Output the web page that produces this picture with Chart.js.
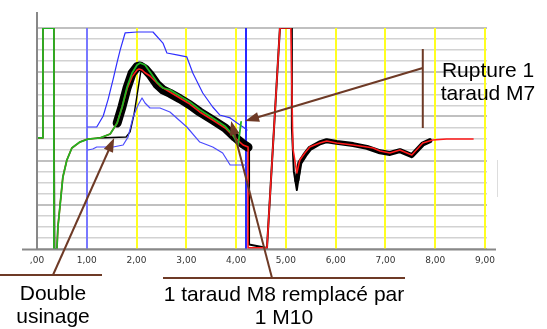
<!DOCTYPE html>
<html>
<head>
<meta charset="utf-8">
<script src="https://cdn.jsdelivr.net/npm/chart.js@4.4.1/dist/chart.umd.min.js"></script>
<style>
  body { margin: 0; background: #fff; }
  canvas { display: block; }
</style>
</head>
<body>
<canvas id="graphe" width="547" height="329"></canvas>
<script>
// axe x : temps (s), axe y : unités de grille (0 à 20)
const ticksX = [0, 1, 2, 3, 4, 4.2, 5, 6, 7, 8, 9];
const etiquettesX = [",00", "1,00", "2,00", "3,00", "4,00", "", "5,00", "6,00", "7,00", "8,00", "9,00"];
const ticksY = [0, 1, 2, 3, 4, 5, 6, 7, 8, 9, 10, 11, 12, 13, 14, 15, 16, 17, 18, 19, 20];

const courbeVerte = [
  [0.02, 10.05], [0.12, 10.05], [0.12, 20], [0.34, 20], [0.34, 0], [0.40, 0], [0.42, 1.99],
  [0.46, 3.80], [0.52, 6.52], [0.60, 8.05], [0.70, 9.14], [0.86, 9.68], [1.02, 9.95], [1.27, 10.05],
  [1.47, 10.41], [1.61, 11.40], [1.71, 12.85], [1.81, 14.66], [1.91, 15.93], [2.01, 16.65],
  [2.07, 16.83], [2.17, 16.65], [2.27, 16.02], [2.41, 15.11], [2.53, 14.57], [2.67, 14.4],
  [2.87, 13.85], [3.07, 13.3], [3.27, 12.6], [3.53, 11.86], [3.78, 11.1], [3.94, 10.3],
  [4.04, 9.4], [4.10, 11.5]
];

const courbeRouge = [
  [0.02, 10.05], [0.12, 10.05], [0.12, 20], [0.34, 20], [0.34, 0], [0.40, 0], [0.42, 1.99],
  [0.46, 3.80], [0.52, 6.52], [0.60, 8.05], [0.70, 9.14], [0.86, 9.68], [1.02, 9.95], [1.27, 10.05],
  [1.47, 10.41], [1.61, 11.40], [1.71, 12.85], [1.81, 14.5], [1.91, 15.6], [2.01, 16.2],
  [2.05, 16.29], [2.11, 16.2], [2.17, 15.95], [2.27, 15.66], [2.47, 14.75], [2.67, 14.21],
  [2.87, 13.67], [3.07, 13.12], [3.27, 12.40], [3.53, 11.67], [3.78, 10.95], [3.98, 10.05],
  [4.14, 9.41], [4.24, 9.23], [4.24, 8.51], [4.24, 0.1], [4.62, 0.1], [4.88, 20], [5.10, 20],
  [5.14, 9.14], [5.22, 6.88], [5.28, 8.05], [5.38, 8.69], [5.48, 9.23], [5.68, 9.59], [5.82, 9.77],
  [6.02, 9.59], [6.35, 9.41], [6.63, 9.23], [6.75, 9.14], [6.89, 8.87], [7.09, 8.69], [7.29, 8.96],
  [7.53, 8.51], [7.75, 9.59], [7.95, 9.86], [8.23, 9.95], [8.76, 9.95]
];

const noirDebut = [
  [0.02, 10.05], [0.12, 10.05], [0.12, 20], [0.34, 20], [0.36, 0], [0.40, 0], [0.42, 1.99],
  [0.46, 3.80], [0.52, 6.52], [0.60, 8.05], [0.70, 9.14], [0.86, 9.68], [1.02, 9.95], [1.27, 10.05],
  [1.47, 10.41], [1.61, 11.40], [1.67, 12.1]
];

const noirFaisceau = [
  [1.61, 11.40], [1.71, 12.9], [1.81, 14.6], [1.91, 15.9], [2.01, 16.5], [2.07, 16.56],
  [2.17, 16.3], [2.27, 15.8], [2.41, 14.9], [2.53, 14.4], [2.67, 14.1], [2.87, 13.6],
  [3.07, 13.05], [3.27, 12.4], [3.53, 11.67], [3.78, 10.95], [3.98, 10.1], [4.14, 9.5], [4.24, 9.2]
];

const noirChute = [
  [4.26, 9.2], [4.26, 0.4], [4.62, 0.1], [4.88, 20], [5.12, 20], [5.12, 11], [5.16, 7.0],
  [5.22, 5.34], [5.28, 7.2]
];

const noirApres = [
  [5.22, 6.2], [5.28, 7.8], [5.38, 8.5], [5.48, 9.1], [5.68, 9.6], [5.82, 9.8], [6.02, 9.65],
  [6.35, 9.45], [6.63, 9.2], [6.89, 8.8], [7.09, 8.65], [7.29, 8.9], [7.53, 8.45], [7.75, 9.5],
  [7.89, 9.8]
];

// double usinage : palier
const noirPalier = [
  [1.22, 10.05], [1.79, 10.14], [1.87, 10.6], [1.95, 12.2], [2.03, 14.5], [2.09, 16.2]
];

const enveloppeHaute = [
  [1.02, 11.04], [1.20, 11.04], [1.33, 12.04], [1.43, 13.57], [1.53, 15.38], [1.61, 16.92],
  [1.67, 18.0], [1.77, 19.55], [2.01, 19.64], [2.33, 19.64], [2.53, 18.64], [2.61, 17.74],
  [2.81, 17.56], [3.01, 17.38], [3.13, 15.93], [3.33, 14.12], [3.53, 12.85], [3.67, 12.13],
  [3.88, 11.86], [4.02, 11.4], [4.14, 11.04], [4.22, 10.77]
];

const enveloppeBasse = [
  [1.02, 8.96], [1.12, 9.05], [1.20, 9.23], [1.53, 9.23], [1.73, 9.41], [1.83, 10.14],
  [1.93, 11.95], [2.03, 13.03], [2.11, 13.67], [2.17, 13.21], [2.27, 12.76], [2.47, 12.76],
  [2.67, 12.40], [3.01, 11.04], [3.27, 9.68], [3.53, 9.23], [3.73, 8.69], [3.88, 7.6], [4.22, 7.6]
];

const brun = "#6e3a26";

const pts = (arr) => arr.map(([x, y]) => ({ x: x, y: y }));

const serie = (data, couleur, epaisseur) => ({
  data: pts(data),
  borderColor: couleur,
  borderWidth: epaisseur,
  pointRadius: 0,
  tension: 0,
  fill: false,
  borderJoinStyle: "round",
  borderCapStyle: "round",
});

// flèche simple avec pointe pleine
function fleche(ctx, x1, y1, x2, y2) {
  const a = Math.atan2(y2 - y1, x2 - x1);
  ctx.beginPath();
  ctx.moveTo(x1, y1);
  ctx.lineTo(x2 - 8 * Math.cos(a), y2 - 8 * Math.sin(a));
  ctx.stroke();
  ctx.beginPath();
  ctx.moveTo(x2, y2);
  ctx.lineTo(x2 - 14 * Math.cos(a) + 5 * Math.sin(a), y2 - 14 * Math.sin(a) - 5 * Math.cos(a));
  ctx.lineTo(x2 - 14 * Math.cos(a) - 5 * Math.sin(a), y2 - 14 * Math.sin(a) + 5 * Math.cos(a));
  ctx.closePath();
  ctx.fill();
}

const annotations = {
  id: "annotations",
  afterDatasetsDraw(chart) {
    const ctx = chart.ctx;
    const sx = chart.scales.x;
    const sy = chart.scales.y;
    const area = chart.chartArea;
    ctx.save();

    // axes prolongés
    ctx.strokeStyle = "#888";
    ctx.lineWidth = 2;
    ctx.beginPath();
    ctx.moveTo(area.left, 12);
    ctx.lineTo(area.left, area.bottom);
    ctx.moveTo(22, area.bottom + 0.5);
    ctx.lineTo(496, area.bottom + 0.5);
    ctx.stroke();
    ctx.strokeStyle = "#ddd";
    ctx.lineWidth = 1;
    ctx.beginPath();
    ctx.moveTo(497.5, 160);
    ctx.lineTo(497.5, 197);
    ctx.stroke();

    ctx.strokeStyle = brun;
    ctx.fillStyle = brun;
    ctx.lineWidth = 2;

    // Double usinage
    ctx.beginPath();
    ctx.moveTo(0, 275);
    ctx.lineTo(102, 275);
    ctx.stroke();
    fleche(ctx, 53, 275, sx.getPixelForValue(1.55), sy.getPixelForValue(10.05));

    // 1 taraud M8 remplacé
    ctx.beginPath();
    ctx.moveTo(163, 278);
    ctx.lineTo(405, 278);
    ctx.stroke();
    fleche(ctx, 272, 278, sx.getPixelForValue(3.90), sy.getPixelForValue(11.58));

    // Rupture
    const xb = sx.getPixelForValue(7.75);
    ctx.beginPath();
    ctx.moveTo(xb, sy.getPixelForValue(18.1));
    ctx.lineTo(xb, sy.getPixelForValue(10.95));
    ctx.stroke();
    fleche(ctx, xb, sy.getPixelForValue(16.38), sx.getPixelForValue(4.18), sy.getPixelForValue(11.58));

    ctx.fillStyle = "#000";
    ctx.font = "21px 'Liberation Sans', Arial, sans-serif";
    ctx.textAlign = "center";
    ctx.textBaseline = "alphabetic";
    ctx.fillText("Rupture 1", 488, 77);
    ctx.fillText("taraud M7", 488, 100);
    ctx.fillText("Double", 53, 300);
    ctx.fillText("usinage", 53, 323);
    ctx.fillText("1 taraud M8 remplacé par", 284, 301);
    ctx.fillText("1 M10", 284, 324);
    ctx.restore();
  },
};

const couleurGrilleX = (v) => {
  if (Math.abs(v - 1) < 0.01) return "#7878ff";
  if (Math.abs(v - 4.2) < 0.01) return "#2a2aff";
  return "#ffff20";
};

new Chart(document.querySelector("#graphe"), {
  type: "line",
  data: {
    datasets: [
      serie(courbeVerte, "#22b422", 1.8),
      serie(courbeRouge, "#ff1a1a", 1.6),
      serie(enveloppeHaute, "#2f2fff", 1.2),
      serie(enveloppeBasse, "#4a4aff", 1.2),
      serie(noirPalier, "#000", 1.4),
      serie(noirApres, "#000", 5),
      serie(noirChute, "#000", 2),
      serie(noirFaisceau, "#000", 9),
      serie(noirDebut, "#000", 1),
    ],
  },
  options: {
    responsive: false,
    devicePixelRatio: 1,
    animation: false,
    layout: { padding: { top: 28, right: 60, left: 0, bottom: 0 } },
    plugins: { legend: { display: false }, tooltip: { enabled: false } },
    scales: {
      x: {
        type: "linear",
        min: 0,
        max: 9.04,
        afterBuildTicks: (scale) => {
          scale.ticks = ticksX.map((v) => ({ value: v }));
        },
        afterFit: (scale) => {
          scale.height = 80;
        },
        border: { display: false },
        grid: {
          z: -1,
          drawTicks: false,
          color: (c) => couleurGrilleX(c.tick.value),
          lineWidth: 2,
        },
        ticks: {
          autoSkip: false,
          maxRotation: 0,
          padding: 6,
          color: "#333",
          font: { family: "'DejaVu Sans', sans-serif", size: 9 },
          callback: (v, i) => etiquettesX[i],
        },
      },
      y: {
        min: 0,
        max: 20,
        afterBuildTicks: (scale) => {
          scale.ticks = ticksY.map((v) => ({ value: v }));
        },
        afterFit: (scale) => {
          scale.width = 37;
        },
        border: { display: false },
        grid: {
          z: -2,
          drawTicks: false,
          color: (c) => (c.tick.value % 4 === 0 ? "#c0c0c0" : "#d2d2d2"),
          lineWidth: (c) => (c.tick.value % 4 === 0 ? 2 : 1.5),
        },
        ticks: { display: false },
      },
    },
  },
  plugins: [annotations],
});
</script>
</body>
</html>
